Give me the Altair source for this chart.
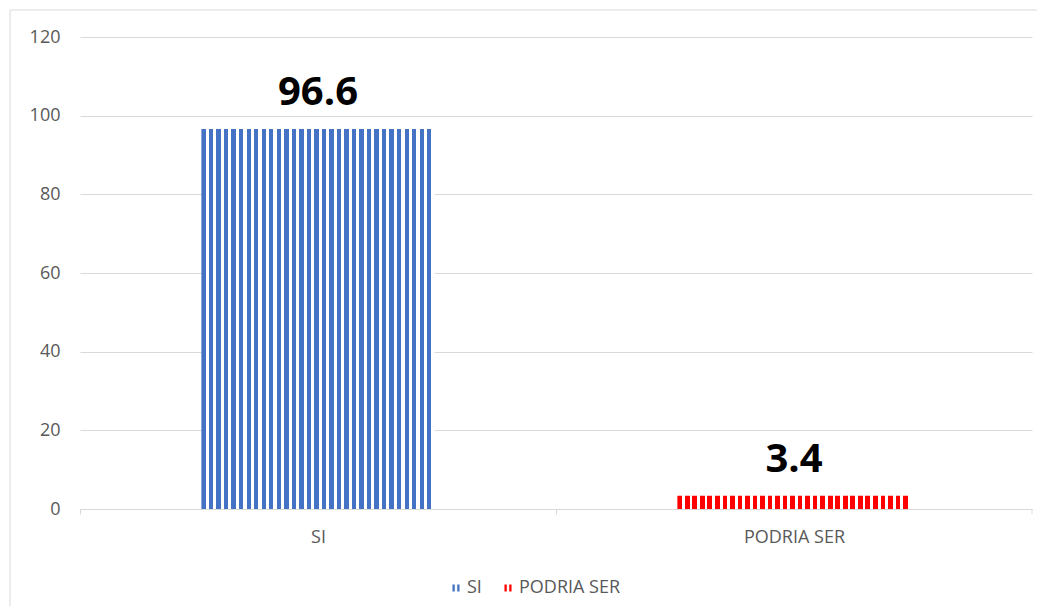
import altair as alt
import pandas as pd

categories = ["SI", "PODRIA SER"]
values = [96.6, 3.4]
labels = ["96.6", "3.4"]
colors = ["#4472C4", "#FF0000"]
y_ticks = [0, 20, 40, 60, 80, 100, 120]

df = pd.DataFrame({"cat": categories, "val": values, "lab": labels})
one = pd.DataFrame({"a": [0]})

FONT = "Open Sans"
GRAY = "#595959"
LINE = "#d9d9d9"


def stripes(color, n, frac):
    stops = []
    for i in range(n):
        a = round(i / n, 6)
        b = round((i + frac) / n, 6)
        c = round((i + 1) / n, 6)
        stops += [
            alt.GradientStop(color=color, offset=a),
            alt.GradientStop(color=color, offset=b),
            alt.GradientStop(color="#ffffff", offset=b),
            alt.GradientStop(color="#ffffff", offset=c),
        ]
    return alt.LinearGradient(gradient="linear", stops=stops, x1=0, x2=1, y1=0, y2=0)


x_enc = alt.X(
    "cat:N",
    sort=categories,
    scale=alt.Scale(domain=categories, paddingInner=0.51, paddingOuter=0.255),
    axis=alt.Axis(
        title=None, labelFont=FONT, labelFontSize=18, labelColor=GRAY,
        domainColor=LINE, tickColor=LINE, tickSize=5, tickOffset=-238,
        labelOffset=238, labelPadding=14, labelAngle=0, grid=False,
    ),
)
y_enc = alt.Y(
    "val:Q",
    scale=alt.Scale(domain=[0, 120], nice=False),
    axis=alt.Axis(
        title=None, values=y_ticks, labelFont=FONT, labelFontSize=18,
        labelColor=GRAY, domain=False, ticks=False, tickSize=0,
        labelPadding=20, gridColor=LINE,
    ),
)

frame = alt.Chart(one).mark_rect(fill="transparent", stroke=LINE, strokeWidth=1).encode(
    x=alt.value(-70), x2=alt.value(1300), y=alt.value(-27), y2=alt.value(900)
)

blue = alt.Chart(df).transform_filter(alt.datum.cat == "SI").mark_bar(
    fill=stripes(colors[0], 31, 0.58)
).encode(x=x_enc, y=y_enc)

red = alt.Chart(df).transform_filter(alt.datum.cat == "PODRIA SER").mark_bar(
    fill=stripes(colors[1], 31, 0.62)
).encode(x=x_enc, y=y_enc)

text = alt.Chart(df).mark_text(
    font=FONT, fontSize=40, fontWeight="bold", color="#000000",
    baseline="alphabetic", dy=-24,
).encode(x=x_enc, y=y_enc, text="lab:N")

legend_layer = alt.Chart(df).mark_point(filled=True, opacity=0).encode(
    x=x_enc, y=y_enc,
    color=alt.Color(
        "cat:N",
        scale=alt.Scale(domain=categories, range=colors),
        legend=alt.Legend(
            title=None, orient="none", legendX=367, legendY=542,
            direction="horizontal", labelFont=FONT, labelFontSize=18,
            labelColor=GRAY, symbolType="M-1,-1H-0.35V1H-1Z M0.35,-1H1V1H0.35Z",
            symbolSize=50, labelOffset=2, columnPadding=17,
            symbolStrokeWidth=0, symbolOpacity=1,
        ),
    ),
)

end_tick = alt.Chart(one).mark_rule(color=LINE, strokeWidth=1).encode(
    x=alt.value(952), y=alt.value(472), y2=alt.value(477)
)

chart = alt.layer(frame, blue, red, text, legend_layer, end_tick).properties(
    width=952, height=472,
    autosize=alt.AutoSizeParams(type="none"),
    padding={"left": 72, "top": 29, "right": 5, "bottom": 97},
    background="#ffffff",
).configure_view(strokeWidth=0)

chart.save("out.html", embed_options={"renderer": "svg", "actions": False})
